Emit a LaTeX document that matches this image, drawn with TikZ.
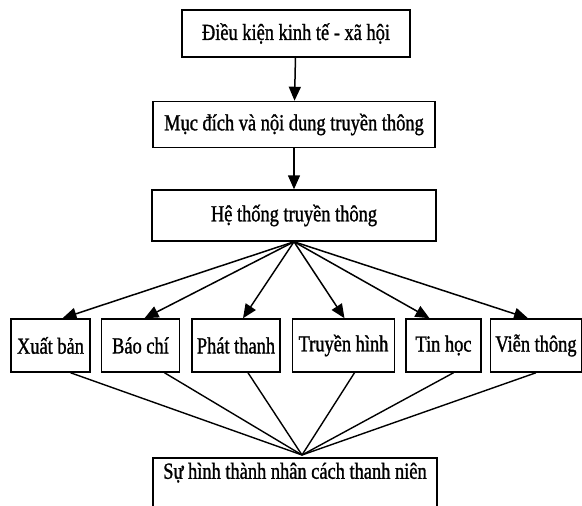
\documentclass[tikz,border=0pt]{standalone}
\usepackage{fontspec}
\setmainfont{Liberation Serif}[FakeStretch=0.8,FakeBold=1.2]
\usetikzlibrary{arrows.meta,positioning}
\tikzset{
  block/.style={draw,rectangle,line width=1.5pt,inner xsep=3pt,inner ysep=0pt,
    minimum height=47pt,font=\fontsize{23}{26}\selectfont},
  medium/.style={block,minimum height=53pt},
  feed/.style={-{Triangle[length=14pt,width=12pt]},line width=1.5pt},
  joinline/.style={line width=1.4pt}
}

\begin{document}
\begin{tikzpicture}[x=1pt,y=-1pt]
      \useasboundingbox (0,0) rectangle (582,506);
      \clip (0,0) rectangle (582,506);
      \node[block,minimum width=228pt] (econ) at (296,33.5) {Điều kiện kinh tế - xã hội};
      \node[block,minimum width=282pt,minimum height=46pt,below=43pt of econ,xshift=-2pt] (goal) {Mục đích và nội dung truyền thông};
      \node[block,minimum width=284pt,minimum height=51pt,below=41pt of goal] (sys) {Hệ thống truyền thông};
      \node[medium,minimum width=79pt] (xb) at (50.5,345.5) {Xuất bản};
      \node[medium,minimum width=78pt,right=10pt of xb] (bc) {Báo chí};
      \node[medium,minimum width=88pt,right=11pt of bc] (pt) {Phát thanh};
      \node[medium,minimum width=102pt,right=11pt of pt] (th) {Truyền hình};
      \node[medium,minimum width=75pt,right=10pt of th] (tin) {Tin học};
      \node[medium,minimum width=91pt,right=8pt of tin] (vt) {Viễn thông};
      \node[block,minimum width=284pt,minimum height=0pt,inner ysep=4pt,text height=17pt,text depth=40pt,anchor=north] (soc) at (295,457) {Sự hình thành nhân cách thanh niên};
      \coordinate (meet) at ([xshift=7pt,yshift=2pt]soc.north);
      \path
      (econ) edge[feed] (goal)
      (goal) edge[feed] (sys)
      (sys.south) edge[feed] ([xshift=12pt]xb.north)
      (sys.south) edge[feed] ([xshift=4pt]bc.north)
      (sys.south) edge[feed] ([xshift=7pt]pt.north)
      (sys.south) edge[feed] ([xshift=1pt]th.north)
      (sys.south) edge[feed] ([xshift=-14pt]tin.north)
      (sys.south) edge[feed] ([xshift=-8pt]vt.north)
      ;
      \path[joinline]
      ([xshift=20pt]xb.south) edge (meet)
      ([xshift=24pt]bc.south) edge (meet)
      ([xshift=12pt]pt.south) edge (meet)
      ([xshift=11pt]th.south) edge (meet)
      ([xshift=10pt]tin.south) edge (meet)
      (vt.south) edge (meet)
      ;
    \end{tikzpicture}
\end{document}
